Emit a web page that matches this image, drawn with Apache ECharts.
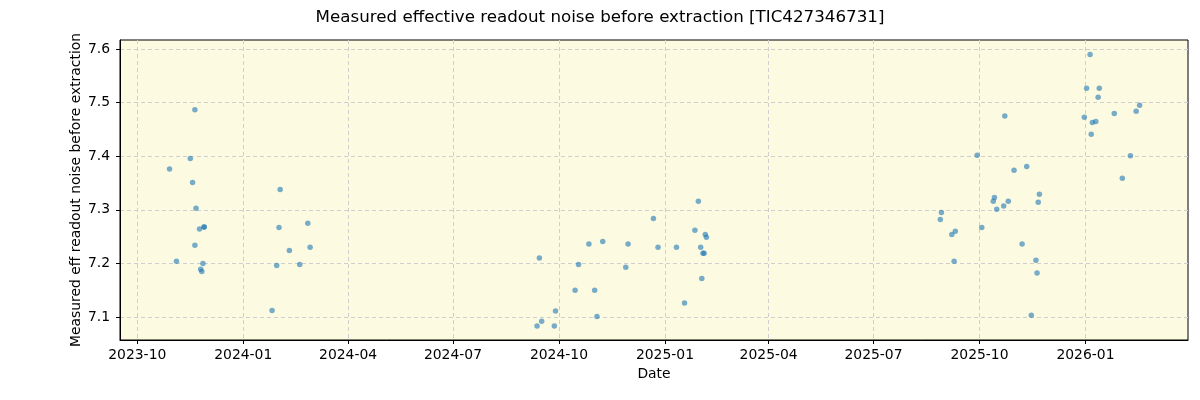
<!DOCTYPE html>
<html>
<head>
<meta charset="utf-8">
<script src="https://cdn.jsdelivr.net/npm/echarts@6/dist/echarts.min.js"></script>
<style>
  html, body { margin: 0; padding: 0; background: #fff; }
  #chart { width: 1200px; height: 400px; }
</style>
</head>
<body>
<div id="chart"></div>
<script>
// observation dates and measured noise values
const obsDates = [
    '2023-10-29', '2023-11-04', '2023-11-16', '2023-11-18', '2023-11-20', '2023-11-20', '2023-11-21',
    '2023-11-24', '2023-11-25', '2023-11-26', '2023-11-27', '2023-11-28', '2023-11-28',
    '2024-01-26', '2024-01-30', '2024-02-01', '2024-02-02', '2024-02-10', '2024-02-19', '2024-02-26', '2024-02-28',
    '2024-09-12', '2024-09-14', '2024-09-16', '2024-09-27', '2024-09-28', '2024-10-15', '2024-10-18',
    '2024-10-27', '2024-11-01', '2024-11-03', '2024-11-08', '2024-11-28', '2024-11-30', '2024-12-22',
    '2024-12-26', '2025-01-11', '2025-01-18', '2025-01-27', '2025-01-30', '2025-02-01', '2025-02-02',
    '2025-02-03', '2025-02-04', '2025-02-05', '2025-02-06',
    '2025-08-28', '2025-08-29', '2025-09-07', '2025-09-09', '2025-09-10', '2025-09-29', '2025-10-03',
    '2025-10-13', '2025-10-14', '2025-10-16', '2025-10-22', '2025-10-23', '2025-10-26', '2025-10-31',
    '2025-11-07', '2025-11-11', '2025-11-15', '2025-11-19', '2025-11-20', '2025-11-21', '2025-11-22',
    '2025-12-31', '2026-01-02', '2026-01-05', '2026-01-06', '2026-01-07', '2026-01-10', '2026-01-12',
    '2026-01-13', '2026-01-26', '2026-02-02', '2026-02-09', '2026-02-14', '2026-02-17'
]
const noiseValues = [
    7.376, 7.204, 7.396, 7.351, 7.487, 7.234, 7.303,
    7.264, 7.189, 7.185, 7.200, 7.268, 7.268,
    7.112, 7.196, 7.267, 7.338, 7.224, 7.198, 7.275, 7.230,
    7.083, 7.210, 7.092, 7.083, 7.111, 7.150, 7.198,
    7.236, 7.150, 7.101, 7.241, 7.193, 7.236, 7.284,
    7.230, 7.230, 7.126, 7.262, 7.316, 7.230, 7.172,
    7.219, 7.219, 7.254, 7.249,
    7.282, 7.295, 7.254, 7.204, 7.260, 7.402, 7.267,
    7.316, 7.323, 7.301, 7.307, 7.475, 7.316, 7.374,
    7.236, 7.381, 7.103, 7.206, 7.182, 7.314, 7.329,
    7.473, 7.527, 7.590, 7.441, 7.463, 7.465, 7.510,
    7.527, 7.480, 7.359, 7.401, 7.484, 7.495
]
// axis ticks
const xTickLabels = ['2023-10', '2024-01', '2024-04', '2024-07', '2024-10', '2025-01', '2025-04', '2025-07', '2025-10', '2026-01']
const yTickValues = [7.1, 7.2, 7.3, 7.4, 7.5, 7.6]

// 'YYYY-MM-DD' or 'YYYY-MM' -> UTC timestamp
function toTime(s) {
    const p = s.split('-').map(Number)
    return Date.UTC(p[0], p[1] - 1, p[2] || 1)
}

const xTickValues = xTickLabels.map(toTime)
const points = obsDates.map((d, i) => [toTime(d), noiseValues[i]])

const chart = echarts.init(document.getElementById('chart'))
const font = 'DejaVu Sans'
const option = {
    animation: false,
    title: {
        text: 'Measured effective readout noise before extraction [TIC427346731]',
        left: 'center',
        top: 4,
        textStyle: { fontFamily: font, fontSize: 16.7, fontWeight: 'normal', color: '#000' }
    },
    grid: {
        left: 120,
        right: 12,
        top: 40,
        bottom: 60,
        show: true,
        backgroundColor: '#fcfbe2',
        borderColor: '#000',
        borderWidth: 1
    },
    xAxis: {
        type: 'value',
        min: toTime('2023-09-16'),
        max: toTime('2026-03-31'),
        name: 'Date',
        nameLocation: 'middle',
        nameGap: 27,
        nameTextStyle: { fontFamily: font, fontSize: 13.9, color: '#000' },
        axisLine: { show: true, lineStyle: { color: '#000' } },
        axisTick: { show: true, length: 4, lineStyle: { color: '#000' }, customValues: xTickValues },
        axisLabel: {
            fontFamily: font, fontSize: 13.9, color: '#000', margin: 8,
            customValues: xTickValues,
            formatter: function (v) {
                const i = xTickValues.indexOf(v)
                return i >= 0 ? xTickLabels[i] : ''
            }
        },
        splitLine: { show: true, lineStyle: { color: '#cfcfcf', type: [4, 3], width: 1 } }
    },
    yAxis: {
        type: 'value',
        min: 7.057,
        max: 7.617,
        name: 'Measured eff readout noise before extraction',
        nameLocation: 'middle',
        nameGap: 37,
        nameRotate: 90,
        nameMoveOverlap: false,
        nameTextStyle: { fontFamily: font, fontSize: 13.9, color: '#000' },
        axisLine: { show: true, lineStyle: { color: '#000' } },
        axisTick: { show: true, length: 4, lineStyle: { color: '#000' }, customValues: yTickValues },
        axisLabel: {
            fontFamily: font, fontSize: 13.9, color: '#000', margin: 10,
            customValues: yTickValues,
            formatter: v => v.toFixed(1)
        },
        splitLine: { show: true, lineStyle: { color: '#cfcfcf', type: [4, 3], width: 1 } }
    },
    series: [{
        type: 'scatter',
        data: points,
        symbolSize: 5.5,
        itemStyle: { color: '#1f77b4', opacity: 0.6 }
    }]
}
chart.setOption(option)
</script>
</body>
</html>
